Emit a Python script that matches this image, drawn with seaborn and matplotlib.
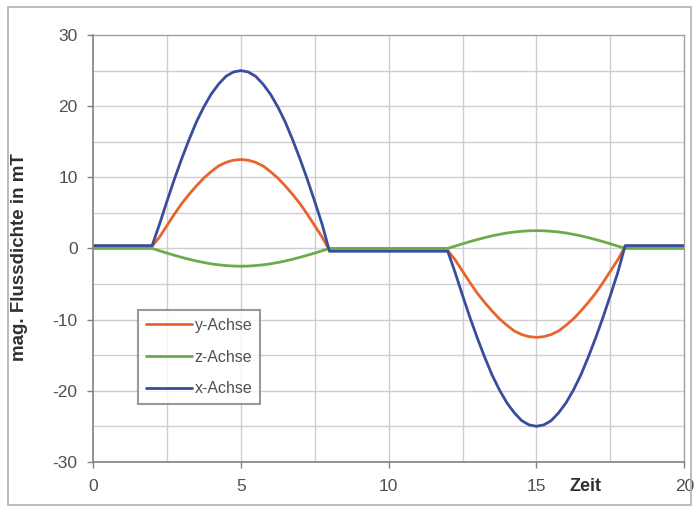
import pandas as pd
import matplotlib
matplotlib.use("Agg")
import matplotlib.pyplot as plt
import seaborn as sns

# Zeit-Achse: flache Abschnitte grob, Halbwellen in 0.25er Schritten
zeit = [0, 1, 2,
        2.25, 2.5, 2.75, 3, 3.25, 3.5, 3.75, 4, 4.25, 4.5, 4.75, 5,
        5.25, 5.5, 5.75, 6, 6.25, 6.5, 6.75, 7, 7.25, 7.5, 7.75,
        8, 9, 10, 11, 12,
        12.25, 12.5, 12.75, 13, 13.25, 13.5, 13.75, 14, 14.25, 14.5, 14.75, 15,
        15.25, 15.5, 15.75, 16, 16.25, 16.5, 16.75, 17, 17.25, 17.5, 17.75,
        18, 19, 20]

# Werte
y_achse = [0.3, 0.3, 0.3,
           1.6, 3.2, 4.8, 6.3, 7.6, 8.8, 9.9, 10.8, 11.6, 12.1, 12.4, 12.5,
           12.4, 12.1, 11.6, 10.8, 9.9, 8.8, 7.6, 6.3, 4.8, 3.2, 1.6,
           -0.3, -0.3, -0.3, -0.3, -0.3,
           -1.6, -3.2, -4.8, -6.3, -7.6, -8.8, -9.9, -10.8, -11.6, -12.1, -12.4, -12.5,
           -12.4, -12.1, -11.6, -10.8, -9.9, -8.8, -7.6, -6.3, -4.8, -3.2, -1.6,
           0.3, 0.3, 0.3]
z_achse = [0, 0, 0,
           -0.33, -0.65, -0.96, -1.25, -1.52, -1.77, -1.98, -2.17, -2.31, -2.41, -2.48, -2.5,
           -2.48, -2.41, -2.31, -2.17, -1.98, -1.77, -1.52, -1.25, -0.96, -0.65, -0.33,
           0, 0, 0, 0, 0,
           0.33, 0.65, 0.96, 1.25, 1.52, 1.77, 1.98, 2.17, 2.31, 2.41, 2.48, 2.5,
           2.48, 2.41, 2.31, 2.17, 1.98, 1.77, 1.52, 1.25, 0.96, 0.65, 0.33,
           0, 0, 0]
x_achse = [0.4, 0.4, 0.4,
           3.4, 6.6, 9.7, 12.6, 15.3, 17.8, 19.9, 21.7, 23.1, 24.2, 24.8, 25.0,
           24.8, 24.2, 23.1, 21.7, 19.9, 17.8, 15.3, 12.6, 9.7, 6.6, 3.4,
           -0.4, -0.4, -0.4, -0.4, -0.4,
           -3.4, -6.6, -9.7, -12.6, -15.3, -17.8, -19.9, -21.7, -23.1, -24.2, -24.8, -25.0,
           -24.8, -24.2, -23.1, -21.7, -19.9, -17.8, -15.3, -12.6, -9.7, -6.6, -3.4,
           0.4, 0.4, 0.4]

serien = ["y-Achse", "z-Achse", "x-Achse"]
farben = {"y-Achse": "#e8642e", "z-Achse": "#6cab4c", "x-Achse": "#3a4c9c"}

df = pd.concat([
    pd.DataFrame({"Zeit": zeit, "Wert": y_achse, "Achse": "y-Achse"}),
    pd.DataFrame({"Zeit": zeit, "Wert": z_achse, "Achse": "z-Achse"}),
    pd.DataFrame({"Zeit": zeit, "Wert": x_achse, "Achse": "x-Achse"}),
], ignore_index=True)

sns.set_style("white")
plt.rcParams["font.family"] = ["Liberation Sans", "DejaVu Sans"]
plt.rcParams["axes.unicode_minus"] = False

fig = plt.figure(figsize=(6.94, 5.07), dpi=100)
ax = fig.add_axes([0.134, 0.089, 0.852, 0.842])

# Rahmen um das ganze Diagramm
fig.patches.append(plt.Rectangle((0.011, 0.004), 0.984, 0.982, transform=fig.transFigure,
                                 fill=False, edgecolor="#b0b0b0", linewidth=1.2))

# Gitter
for gy in range(-25, 30, 5):
    ax.axhline(gy, color="#cfcfcf", linewidth=1, zorder=0)
for gx in [2.5, 5, 7.5, 10, 12.5, 15, 17.5]:
    ax.axvline(gx, color="#cfcfcf", linewidth=1, zorder=0)

sns.lineplot(data=df, x="Zeit", y="Wert", hue="Achse", hue_order=serien,
             palette=farben, linewidth=2, ax=ax, sort=False)

ax.set_xlim(0, 20)
ax.set_ylim(-30, 30)
ax.set_xticks([0, 5, 10, 15, 20])
ax.set_yticks([-30, -20, -10, 0, 10, 20, 30])
ax.tick_params(axis="both", direction="out", length=4, width=1, color="#808080",
               labelsize=12.5, labelcolor="#505050", left=True, bottom=True)
ax.tick_params(axis="x", pad=8)
ax.tick_params(axis="y", pad=7)

for side in ["left", "bottom"]:
    ax.spines[side].set_color("#808080")
    ax.spines[side].set_linewidth(1.2)
for side in ["top", "right"]:
    ax.spines[side].set_color("#a0a0a0")
    ax.spines[side].set_linewidth(1)

ax.set_xlabel("")
ax.set_ylabel("mag. Flussdichte in mT", fontsize=13.5, fontweight="bold", color="#303030")
ax.yaxis.set_label_coords(-0.11, 0.48)
ax.text(16.65, -32.2, "Zeit", ha="center", va="top", fontsize=13, fontweight="bold", color="#303030")

leg = ax.legend(loc="upper left", bbox_to_anchor=(0.076, 0.356), borderaxespad=0,
                frameon=True, fancybox=False, fontsize=11.5, handlelength=2.9,
                handletextpad=0.15, labelspacing=1.05, borderpad=0.5)
leg.get_frame().set_edgecolor("#808080")
leg.get_frame().set_linewidth(1.5)
for t in leg.get_texts():
    t.set_color("#505050")

fig.savefig("out.png", dpi=100)
